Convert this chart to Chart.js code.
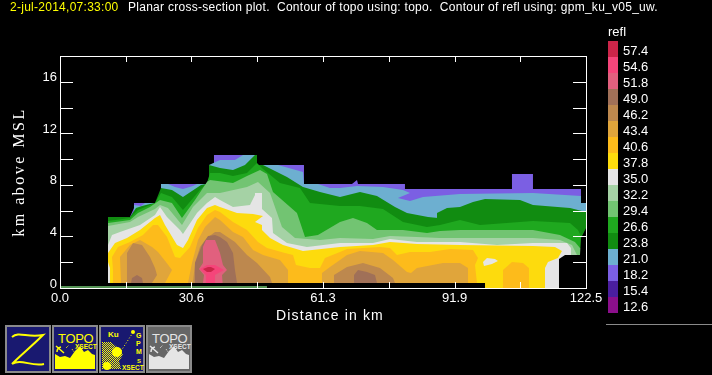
<!DOCTYPE html>
<html>
<head>
<meta charset="utf-8">
<title>Planar cross-section plot</title>
<script src="https://cdn.jsdelivr.net/npm/chart.js@4"></script>
<style>
  html, body { margin: 0; padding: 0; background: #000; }
  #page { position: relative; width: 712px; height: 375px; overflow: hidden; background: #000; color: #fff;
          font-family: "Liberation Sans", Arial, sans-serif; }
  #chart { position: absolute; left: 0; top: 0; }
  .txt { position: absolute; white-space: pre; line-height: 1; }
  #stamp { left: 10px; top: 1px; font-size: 12px; letter-spacing: 0.27px; color: #ff0; }
  #desc { left: 128px; top: 1px; font-size: 12px; letter-spacing: 0.27px; }
  #xTitle { left: 276px; top: 308px; font-size: 14px; letter-spacing: 1.15px; }
  #yTitle { left: 19px; top: 172px; font-size: 16px; letter-spacing: 2.5px; font-family: "Liberation Serif", serif;
            transform: translate(-50%, -50%) rotate(-90deg); }
  #barTitle { left: 608px; top: 25px; font-size: 13px; }
  .swatch { position: absolute; left: 608px; width: 10px; height: 16px; }
  .barLabel { left: 623px; font-size: 13px; }
  #rule { position: absolute; left: 606px; top: 324px; width: 106px; height: 1px; background: #8a8a8a; }
  .icon { position: absolute; top: 325px; width: 46px; height: 48px; }
  .icon text { font-family: "Liberation Sans", Arial, sans-serif; }
</style>
</head>
<body>
<div id="page">
  <canvas id="chart" width="712" height="375"></canvas>
  <div class="txt" id="stamp">2-jul-2014,07:33:00</div>
  <div class="txt" id="desc">Planar cross-section plot.  Contour of topo using: topo.  Contour of refl using: gpm_ku_v05_uw.</div>
  <div class="txt" id="xTitle">Distance in km</div>
  <div class="txt" id="yTitle">km above MSL</div>
  <div class="txt" id="barTitle">refl</div>
  <div id="rule"></div>

  <svg class="icon" style="left:5px" viewBox="0 0 46 48">
    <rect x="1" y="1" width="44" height="46" fill="#191970" stroke="#8a8a8a" stroke-width="2"/>
    <path d="M7 12 C14 6 22 13 38 10 C28 20 16 30 7 39 C16 33 26 42 39 39" fill="none" stroke="#ff0" stroke-width="2"/>
  </svg>
  <svg class="icon" style="left:52px" viewBox="0 0 46 48">
    <rect x="1" y="1" width="44" height="46" fill="#191970" stroke="#8a8a8a" stroke-width="2"/>
    <text x="6" y="18" font-size="13" letter-spacing="-0.3" fill="#ff0">TOPO</text>
    <text x="23" y="24" font-size="6.5" font-weight="bold" fill="#ff0">XSECT</text>
    <path d="M3 44 V29 L8 32 L13 31 L18 33 L23 26 L28 21 L32 27 L36 25 L40 29 L43 30 V44 Z" fill="#ff0"/>
    <path d="M4 21 L12 28 M5 27 A5 5 0 0 1 9 22" fill="none" stroke="#ff0" stroke-width="1.5"/>
    <path d="M14 23 L17 20 M20 24 L22 27" stroke="#ff0" stroke-dasharray="1 1"/>
  </svg>
  <svg class="icon" style="left:99px" viewBox="0 0 46 48">
    <defs>
      <pattern id="dots" width="2" height="2" patternUnits="userSpaceOnUse">
        <rect width="1" height="1" fill="#ff0"/><rect x="1" y="1" width="1" height="1" fill="#ff0"/>
      </pattern>
    </defs>
    <rect x="1" y="1" width="44" height="46" fill="#191970" stroke="#8a8a8a" stroke-width="2"/>
    <text x="9" y="12" font-size="8" font-weight="bold" fill="#ff0">Ku</text>
    <text x="37" y="13" font-size="7" font-weight="bold" fill="#ff0">G</text>
    <text x="37" y="21" font-size="7" font-weight="bold" fill="#ff0">P</text>
    <text x="37" y="29" font-size="7" font-weight="bold" fill="#ff0">M</text>
    <text x="38" y="38" font-size="6" font-weight="bold" fill="#ff0">S</text>
    <text x="23" y="45" font-size="6.5" font-weight="bold" fill="#ff0">XSECT</text>
    <path d="M3 17 L12 17 L18 22 L24 30 L20 36 L22 44 L3 44 Z" fill="url(#dots)"/>
    <circle cx="8" cy="41" r="4" fill="#ff0"/>
    <circle cx="18" cy="27" r="5" fill="#ff0"/>
    <path d="M22 26 L33 9" stroke="#ff0" stroke-dasharray="1 2"/>
    <circle cx="34" cy="7" r="2" fill="#ff0"/>
  </svg>
  <svg class="icon" style="left:146px" viewBox="0 0 46 48">
    <rect x="1" y="1" width="44" height="46" fill="#666" stroke="#8a8a8a" stroke-width="2"/>
    <text x="6" y="18" font-size="13" letter-spacing="-0.3" fill="#e5e5e5">TOPO</text>
    <text x="23" y="24" font-size="6.5" font-weight="bold" fill="#e5e5e5">XSECT</text>
    <path d="M3 44 V29 L8 32 L13 31 L18 33 L23 26 L28 21 L32 27 L36 25 L40 29 L43 30 V44 Z" fill="#e5e5e5"/>
    <path d="M4 21 L12 28 M5 27 A5 5 0 0 1 9 22" fill="none" stroke="#e5e5e5" stroke-width="1.5"/>
    <path d="M14 23 L17 20 M20 24 L22 27" stroke="#e5e5e5" stroke-dasharray="1 1"/>
  </svg>
</div>

<script>
// axis ticks
const xTickValues = [0, 15.3, 30.6, 45.9, 61.25, 76.6, 91.9, 107.2, 122.5];
const xTickLabels = ["0.0", "", "30.6", "", "61.3", "", "91.9", "", "122.5"];
const yTickValues = [0, 2, 4, 6, 8, 10, 12, 14, 16];
const yTickLabels = ["0", "", "4", "", "8", "", "12", "", "16"];

// colour bar, top to bottom
const barLabels = ["57.4", "54.6", "51.8", "49.0", "46.2", "43.4", "40.6", "37.8", "35.0", "32.2", "29.4", "26.6", "23.8", "21.0", "18.2", "15.4", "12.6"];
const barColors = ["#cc2549", "#f5457a", "#e1607e", "#a07058", "#bd884e", "#e0a53b", "#fdbb1b", "#fddb0d", "#e5e5e5", "#a5d2a5", "#72c472", "#1fa81f", "#118c11", "#6dafd0", "#7b5fe3", "#4a1e9e", "#8b0f8b"];

// contour tops, [distance km, height km]
const refl18 = [[11.18,5.51],[16.3,5.51],[17.23,6.21],[17.23,6.59],[22.59,6.59],[23.52,6.91],[23.52,8.07],[34.0,8.07],[34.7,8.38],[34.7,9.54],[35.86,9.54],[35.86,10.32],[45.88,10.32],[45.88,9.54],[56.82,9.54],[56.82,8.07],[68.0,8.07],[69.17,8.38],[69.4,8.07],[80.34,8.07],[80.34,7.68],[105.26,7.68],[105.26,8.84],[110.15,8.84],[110.15,7.68],[121.33,7.68],[121.33,6.59],[122.5,6.59]];
const refl21 = [[17.23,6.44],[18.86,6.36],[19.8,6.59],[22.59,6.59],[23.52,6.91],[23.52,8.07],[25.15,8.07],[26.78,7.84],[28.64,7.68],[30.97,7.91],[31.9,8.07],[34.0,8.07],[34.7,8.38],[34.7,9.54],[37.26,9.93],[40.75,9.93],[42.62,10.32],[45.88,10.32],[45.88,9.54],[50.77,9.54],[56.59,9.0],[56.82,8.07],[60.08,8.07],[62.88,7.76],[65.21,7.76],[69.17,7.91],[75.22,7.84],[79.88,7.6],[81.51,7.37],[78.71,6.98],[81.51,6.75],[84.54,7.06],[93.15,7.29],[110.15,7.37],[121.33,7.14],[121.33,6.59],[122.5,6.59]];
const refl24 = [[11.18,5.51],[16.3,5.51],[17.7,6.21],[19.1,6.36],[20.96,6.52],[22.12,6.59],[23.52,7.76],[26.08,7.6],[28.64,7.06],[31.44,7.68],[32.84,7.99],[34.0,8.07],[34.7,8.38],[34.7,9.54],[37.26,9.31],[40.29,9.16],[43.08,9.54],[45.41,10.32],[45.88,10.32],[45.88,9.54],[47.28,9.54],[52.86,8.61],[56.59,7.84],[60.55,7.45],[65.21,7.06],[69.86,7.45],[73.82,7.14],[78.02,6.28],[80.81,5.82],[85.7,5.51],[88.03,5.43],[87.8,5.82],[90.13,6.21],[93.15,6.28],[96.18,6.67],[98.98,6.91],[107.13,6.83],[110.15,6.44],[118.77,6.21],[122.5,5.9]];
const refl27 = [[11.18,5.2],[16.3,5.43],[18.16,6.05],[22.12,6.59],[23.52,7.37],[26.08,7.06],[28.64,6.05],[32.6,7.6],[34.23,8.15],[34.93,8.92],[37.26,8.92],[40.29,8.69],[43.55,8.92],[45.88,9.7],[47.28,9.23],[51.23,8.15],[55.89,7.76],[58.22,6.59],[65.21,6.36],[69.86,6.36],[75.22,6.13],[79.88,5.12],[85.47,4.73],[88.5,4.89],[93.15,5.28],[97.81,4.89],[110.15,5.2],[118.77,5.04],[120.63,4.5],[121.33,4.03],[122.5,4.66]];
const refl29 = [[11.18,5.04],[16.3,5.28],[18.16,5.82],[20.96,6.28],[23.29,6.83],[26.08,6.59],[28.41,5.43],[31.44,6.83],[34.23,8.22],[34.93,8.38],[40.29,8.15],[43.55,8.69],[46.58,9.16],[48.21,8.84],[49.6,7.45],[55.19,5.82],[57.06,3.96],[60.08,4.11],[65.21,5.12],[68.23,5.43],[71.49,5.04],[73.82,4.5],[79.88,4.5],[85.47,4.27],[88.5,4.42],[93.15,4.5],[110.15,4.5],[116.44,4.11],[119.93,3.57],[121.1,3.1],[122.5,2.95]];
const refl32 = [[11.18,4.81],[16.3,5.12],[18.16,5.51],[22.12,6.13],[23.29,6.44],[25.15,6.21],[28.41,4.89],[30.97,6.28],[34.23,7.37],[37.26,7.37],[43.55,7.84],[46.11,8.22],[48.91,7.37],[51.7,4.73],[54.73,3.88],[60.55,3.72],[65.21,3.88],[72.89,3.8],[76.85,4.03],[83.14,3.96],[88.5,3.88],[110.15,3.88],[116.44,3.72],[119.24,3.34],[120.4,2.56],[122.5,2.4]];
const refl35 = [[11.18,3.34],[12.11,4.11],[13.97,4.34],[18.63,4.89],[22.12,5.66],[23.29,6.28],[24.92,5.51],[27.95,4.5],[28.64,4.19],[31.9,5.82],[34.23,6.59],[36.1,7.06],[37.26,6.83],[40.29,6.28],[44.25,6.44],[45.41,7.22],[45.41,7.37],[47.04,7.37],[47.04,6.13],[49.37,5.43],[49.6,4.27],[52.86,3.49],[57.52,3.18],[65.21,3.49],[72.89,3.49],[76.85,3.8],[83.14,3.57],[93.15,3.57],[101.77,3.34],[110.15,3.49],[118.07,3.49],[119.0,3.1],[119.0,2.56]];
const refl38 = [[11.64,1.55],[11.18,2.02],[11.18,2.72],[12.81,3.49],[15.6,3.88],[18.63,4.5],[22.12,5.43],[23.29,5.66],[24.45,4.89],[27.25,3.34],[28.64,3.1],[29.81,3.72],[31.9,5.28],[34.23,6.21],[36.1,6.44],[37.26,6.28],[41.22,5.82],[44.95,5.74],[47.28,5.59],[45.41,5.12],[47.04,4.89],[47.04,4.5],[48.91,3.88],[51.93,3.34],[56.59,2.87],[65.21,3.18],[72.89,3.34],[76.85,3.57],[83.14,3.41],[93.15,3.34],[110.15,3.26],[115.28,3.18],[116.9,2.87],[115.98,2.33],[113.65,2.02],[112.95,1.55]];
const refl41a = [[12.34,1.4],[12.11,2.41],[13.51,3.18],[16.3,3.57],[19.33,4.11],[21.66,4.89],[22.82,4.89],[24.92,3.96],[26.78,2.41],[27.95,2.33],[30.27,3.18],[32.14,4.66],[34.23,5.66],[36.1,6.05],[37.26,5.9],[40.29,5.12],[43.55,4.5],[46.11,3.57],[48.21,3.1],[52.4,2.72],[54.26,2.56],[54.96,1.78],[58.22,1.55],[60.55,1.55],[61.71,2.33],[64.04,2.64],[65.21,2.79],[66.84,3.03],[74.52,3.18],[76.85,3.1],[78.48,2.56],[81.51,2.79],[86.17,2.79],[90.82,3.03],[96.18,2.95],[97.34,2.33],[96.65,1.78],[97.11,0.39]];
const refl41b = [[103.17,1.4],[105.26,2.02],[107.82,1.94],[109.22,1.55]];
const refl43a = [[14.21,0.39],[13.97,2.41],[16.3,3.34],[18.63,3.72],[21.43,3.18],[22.82,2.79],[24.68,2.02],[26.08,1.4],[24.45,0.39]];
const refl43b = [[29.81,0.39],[30.74,1.94],[32.14,3.72],[33.77,4.73],[36.1,5.51],[37.26,5.28],[40.29,4.34],[42.62,3.96],[44.95,2.95],[47.28,2.56],[51.23,2.17],[53.1,1.4],[53.1,0.39]];
const refl43c = [[61.01,0.39],[61.01,1.16],[62.88,1.63],[65.21,2.17],[66.84,2.56],[69.86,2.87],[75.22,2.72],[77.55,2.17],[80.81,1.24],[81.74,1.16],[83.14,1.55],[89.19,1.94],[93.15,1.94],[95.02,1.55],[95.02,0.39]];
const refl46a = [[15.6,0.39],[15.6,2.72],[17.0,3.49],[19.1,3.34],[20.96,2.41],[22.12,1.55],[22.59,1.01],[21.43,0.39]];
const refl46b = [[30.97,0.39],[31.44,1.94],[32.6,3.18],[34.23,3.88],[36.1,4.34],[37.26,4.34],[40.75,3.57],[43.55,2.56],[45.88,1.94],[48.91,0.85],[49.37,0.39]];
const refl46c = [[63.81,0.39],[63.81,1.01],[66.84,1.63],[70.56,1.94],[74.52,1.55],[77.55,0.78],[78.02,0.39]];
const refl49a = [[16.53,0.39],[16.77,0.78],[17.93,1.01],[19.1,0.78],[19.33,0.39]];
const refl49b = [[31.44,0.39],[31.44,1.94],[33.07,3.34],[34.47,4.03],[36.1,4.11],[37.26,3.96],[38.89,3.57],[40.29,2.72],[40.75,1.4],[41.22,0.39]];
const refl49c = [[68.47,0.39],[68.47,1.01],[69.4,1.4],[71.49,1.24],[73.36,1.01],[73.82,0.39]];
const refl52 = [[33.3,0.39],[33.54,1.01],[32.37,1.47],[33.3,1.94],[33.3,3.18],[34.0,3.72],[36.1,3.72],[37.26,2.72],[37.96,1.78],[38.89,1.4],[37.73,1.01],[37.96,0.39]];

// closed pockets, outline only
const refl55 = [[32.6,1.47],[34.23,1.78],[36.1,1.78],[38.19,1.4],[36.1,1.01],[36.1,0.39],[34.0,0.39],[34.0,1.01]];
const refl57 = [[33.3,1.47],[34.47,1.63],[35.16,1.63],[36.1,1.47],[35.16,1.24],[34.23,1.24]];
const refl35Pocket = [[98.51,2.02],[99.44,2.33],[101.3,2.25],[102.0,2.09],[100.6,1.86],[98.74,1.71]];

// topo contours along the floor, and the blanked corner on the right
const topoBlack = [[11.18,0],[11.18,0.39],[98.98,0.39],[98.98,0]];
const noData = [[116.21,0],[116.21,2.25],[117.61,2.56],[121.1,2.56],[121.33,3.88],[122.5,4.66],[122.5,0]];
const topoGreen = [[0,0.08],[48.2,0.08]];

function colorOf(label) {
  return barColors[barLabels.indexOf(label)];
}

// filler clips a shape to its first..last x, so start at the far left and end at the far right
function ring(points) {
  const xs = points.map((p) => p[0]);
  const left = xs.indexOf(Math.min(...xs));
  const right = xs.indexOf(Math.max(...xs));
  const turned = points.slice(left).concat(points.slice(0, left));
  return turned.concat([points[left], points[right]]).map((p) => ({ x: p[0], y: p[1] }));
}

// a contour top closed down to the floor
function toFloor(top) {
  return ring([[top[0][0], 0], ...top, [top[top.length - 1][0], 0]]);
}

function band(points, color) {
  return {
    data: points,
    showLine: true,
    fill: "shape",
    backgroundColor: color,
    borderWidth: 0,
    pointRadius: 0,
  };
}

// painted outermost first
const layers = [
  band(toFloor(refl18), colorOf("18.2")),
  band(toFloor(refl21), colorOf("21.0")),
  band(toFloor(refl24), colorOf("23.8")),
  band(toFloor(refl27), colorOf("26.6")),
  band(toFloor(refl29), colorOf("29.4")),
  band(toFloor(refl32), colorOf("32.2")),
  band(toFloor(refl35), colorOf("35.0")),
  band(toFloor(refl38), colorOf("37.8")),
  band(ring(refl35Pocket), colorOf("35.0")),
  band(toFloor(refl41a), colorOf("40.6")),
  band(toFloor(refl41b), colorOf("40.6")),
  band(toFloor(refl43a), colorOf("43.4")),
  band(toFloor(refl43b), colorOf("43.4")),
  band(toFloor(refl43c), colorOf("43.4")),
  band(toFloor(refl46a), colorOf("46.2")),
  band(toFloor(refl46b), colorOf("46.2")),
  band(toFloor(refl46c), colorOf("46.2")),
  band(toFloor(refl49a), colorOf("49.0")),
  band(toFloor(refl49b), colorOf("49.0")),
  band(toFloor(refl49c), colorOf("49.0")),
  band(toFloor(refl52), colorOf("51.8")),
  band(ring(refl55), colorOf("54.6")),
  band(ring(refl57), colorOf("57.4")),
  band(ring(topoBlack), "#000"),
  band(ring(noData), "#000"),
  {
    data: topoGreen.map((p) => ({ x: p[0], y: p[1] })),
    showLine: true,
    fill: false,
    borderColor: colorOf("29.4"),
    borderWidth: 1.5,
    pointRadius: 0,
  },
];
// chart.js paints the first dataset last
const datasets = layers.reverse();

// frame with ticks pointing inwards on all four sides
const frame = {
  id: "frame",
  afterDatasetsDraw(chart) {
    const { ctx, chartArea: a, scales } = chart;
    ctx.save();
    ctx.strokeStyle = "#fff";
    ctx.lineWidth = 1;
    ctx.strokeRect(a.left + 0.5, a.top + 0.5, a.right - a.left, a.bottom - a.top);
    ctx.beginPath();
    xTickValues.slice(1, -1).forEach((v) => {
      const px = Math.round(scales.x.getPixelForValue(v)) + 0.5;
      ctx.moveTo(px, a.top);
      ctx.lineTo(px, a.top + 6);
      ctx.moveTo(px, a.bottom);
      ctx.lineTo(px, a.bottom - 6);
    });
    yTickValues.slice(1).forEach((v) => {
      const py = Math.round(scales.y.getPixelForValue(v)) + 0.5;
      ctx.moveTo(a.left, py);
      ctx.lineTo(a.left + 13, py);
      ctx.moveTo(a.right, py);
      ctx.lineTo(a.right - 13, py);
    });
    ctx.stroke();
    ctx.restore();
  },
};

// colour bar next to the plot
const page = document.getElementById("page");
barLabels.forEach((label, i) => {
  const swatch = document.createElement("div");
  swatch.className = "swatch";
  swatch.style.top = 41 + i * 16 + "px";
  swatch.style.background = barColors[i];
  page.appendChild(swatch);
  const text = document.createElement("div");
  text.className = "txt barLabel";
  text.style.top = 44 + i * 16 + "px";
  text.textContent = label;
  page.appendChild(text);
});

const tickFont = { family: "Liberation Sans", size: 13 };

new Chart(document.getElementById("chart"), {
  type: "scatter",
  data: { datasets: datasets },
  plugins: [frame],
  options: {
    responsive: false,
    animation: false,
    events: [],
    layout: { padding: { left: 0, top: 56, right: 126, bottom: 0 } },
    plugins: { legend: { display: false }, tooltip: { enabled: false } },
    scales: {
      x: {
        type: "linear",
        min: 0,
        max: 122.5,
        grid: { display: false, drawTicks: false },
        border: { display: false },
        afterBuildTicks: (scale) => {
          scale.ticks = xTickValues.map((v) => ({ value: v }));
        },
        afterFit: (scale) => {
          scale.height = 87;
        },
        ticks: {
          autoSkip: false,
          maxRotation: 0,
          color: "#fff",
          font: tickFont,
          padding: 3,
          callback: (value) => xTickLabels[xTickValues.indexOf(value)],
        },
      },
      y: {
        type: "linear",
        min: 0,
        max: 18,
        grid: { display: false, drawTicks: false },
        border: { display: false },
        afterBuildTicks: (scale) => {
          scale.ticks = yTickValues.map((v) => ({ value: v }));
        },
        afterFit: (scale) => {
          scale.width = 60;
        },
        ticks: {
          autoSkip: false,
          color: "#fff",
          font: tickFont,
          padding: 3,
          labelOffset: -4,
          callback: (value) => yTickLabels[yTickValues.indexOf(value)],
        },
      },
    },
  },
});
</script>
</body>
</html>
